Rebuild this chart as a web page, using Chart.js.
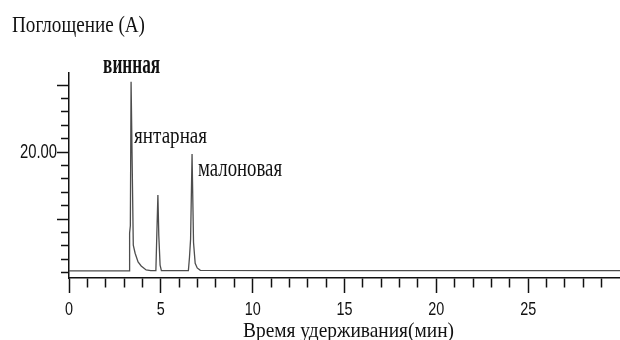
<!DOCTYPE html>
<html>
<head>
<meta charset="utf-8">
<script src="https://cdn.jsdelivr.net/npm/chart.js@4/dist/chart.umd.min.js"></script>
<style>
  html, body { margin: 0; padding: 0; background: #fff; }
  #wrap { width: 620px; height: 340px; }
</style>
</head>
<body>
<div id="wrap"><canvas id="chrom" width="620" height="340"></canvas></div>
<script>
// Chromatogram of organic acids: retention time (min) vs absorbance
const retentionTimes = [0, 2.5, 3.27, 3.30, 3.34, 3.38, 3.50, 3.60, 3.76, 3.93, 4.20, 4.45,
                        4.73, 4.78, 4.84, 4.89, 4.96, 5.03, 6.0, 6.50, 6.56, 6.62, 6.70,
                        6.78, 6.87, 6.98, 7.15, 12, 30];
const absorbance     = [2.25, 2.25, 2.25, 7.9, 9.0, 30.5, 6.1, 4.9, 3.6, 3.0, 2.4, 2.3,
                        2.3, 7.5, 13.6, 7.5, 3.1, 2.3, 2.3, 2.3, 4.3, 7.0, 19.7,
                        6.5, 3.4, 2.7, 2.35, 2.3, 2.3];

// Peaks: name, retention time, apex absorbance
const peakNames  = ['винная', 'янтарная', 'малоновая'];
const peakTimes  = [3.38, 4.84, 6.70];
const peakHeights = [30.5, 13.6, 19.7];

// Axis ticks
const xTickValues = [0,1,2,3,4,5,6,7,8,9,10,11,12,13,14,15,16,17,18,19,20,21,22,23,24,25,26,27,28,29];
const xLabelValues = [0, 5, 10, 15, 20, 25];
const xTickLabels  = ['0', '5', '10', '15', '20', '25'];
const yTickValues = [2,4,6,8,10,12,14,16,18,20,22,24,26,28,30];
const yLabelValues = [20];
const yTickLabels  = ['20.00'];

const yTitle = 'Поглощение (A)';
const xTitle = 'Время удерживания(мин)';

const INK = '#111';
const SERIF = '"Liberation Serif", "Times New Roman", serif';
const SANS = '"Liberation Sans", Arial, sans-serif';

// Draw text horizontally compressed by factor sx (narrow typefaces)
function drawText(ctx, text, x, y, font, sx, align) {
  ctx.save();
  ctx.font = font;
  ctx.fillStyle = INK;
  ctx.textBaseline = 'alphabetic';
  ctx.textAlign = 'left';
  const w = ctx.measureText(text).width * sx;
  const left = align === 'center' ? x - w / 2 : align === 'right' ? x - w : x;
  ctx.translate(left, y);
  ctx.scale(sx, 1);
  ctx.fillText(text, 0, 0);
  ctx.restore();
}
// Same, but squeezed to a given width
function drawFitted(ctx, text, x, y, font, width, align) {
  ctx.save();
  ctx.font = font;
  const sx = width / ctx.measureText(text).width;
  ctx.restore();
  drawText(ctx, text, x, y, font, sx, align);
}

const labelsPlugin = {
  id: 'chromLabels',
  afterDraw(chart) {
    const ctx = chart.ctx;
    const xs = chart.scales.x, ys = chart.scales.y;

    // tick labels
    xLabelValues.forEach((v, i) => {
      drawText(ctx, xTickLabels[i], xs.getPixelForValue(v), 315, '18px ' + SANS, 0.8, 'center');
    });
    yLabelValues.forEach((v, i) => {
      drawText(ctx, yTickLabels[i], 57, ys.getPixelForValue(v) + 6, '19.5px ' + SANS, 0.76, 'right');
    });

    // axis titles
    drawFitted(ctx, yTitle, 12, 32, '22.5px ' + SERIF, 133, 'left');
    drawFitted(ctx, xTitle, 243, 336.5, '20.7px ' + SERIF, 211, 'left');

    // peak names
    const p0x = xs.getPixelForValue(peakTimes[0]), p0y = ys.getPixelForValue(peakHeights[0]);
    drawFitted(ctx, peakNames[0], p0x + 0.5, p0y - 8.5, 'bold 27px ' + SERIF, 57, 'center');
    drawFitted(ctx, peakNames[1], p0x + 3, ys.getPixelForValue(peakHeights[0]) + 61.5, '24px ' + SERIF, 73, 'left');
    const p2x = xs.getPixelForValue(peakTimes[2]), p2y = ys.getPixelForValue(peakHeights[2]);
    drawFitted(ctx, peakNames[2], p2x + 6, p2y + 22, '26px ' + SERIF, 84, 'left');
  }
};

new Chart(document.getElementById('chrom'), {
  type: 'line',
  data: {
    datasets: [{
      data: retentionTimes.map((t, i) => ({ x: t, y: absorbance[i] })),
      borderColor: '#4d4d4d',
      borderWidth: 1.3,
      pointRadius: 0,
      tension: 0,
      fill: false
    }]
  },
  options: {
    responsive: false,
    animation: false,
    devicePixelRatio: 1,
    layout: { padding: { top: 73, right: 0, bottom: 0, left: 0 } },
    plugins: { legend: { display: false }, tooltip: { enabled: false } },
    scales: {
      x: {
        type: 'linear',
        position: 'bottom',
        min: 0,
        max: 30,
        afterBuildTicks: s => { s.ticks = xTickValues.map(v => ({ value: v })); },
        afterFit: s => { s.height = 62; },
        ticks: { display: false },
        border: { color: INK, width: 1.5 },
        grid: {
          drawOnChartArea: false,
          drawTicks: true,
          tickLength: 15,
          tickWidth: 1.5,
          tickColor: INK,
          tickBorderDash: c => (c.tick && c.tick.value % 5 === 0) ? [] : [9, 100]
        }
      },
      y: {
        type: 'linear',
        position: 'left',
        min: 1.2,
        max: 31.8,
        afterBuildTicks: s => { s.ticks = yTickValues.map(v => ({ value: v })); },
        afterFit: s => { s.width = 69; },
        ticks: { display: false },
        border: { color: INK, width: 1.5 },
        grid: {
          drawOnChartArea: false,
          drawTicks: true,
          tickLength: 12,
          tickWidth: 1.5,
          tickColor: INK,
          tickBorderDash: c => (c.tick && c.tick.value % 10 === 0) ? [] : [0, 4, 8, 100]
        }
      }
    }
  },
  plugins: [labelsPlugin]
});
</script>
</body>
</html>
